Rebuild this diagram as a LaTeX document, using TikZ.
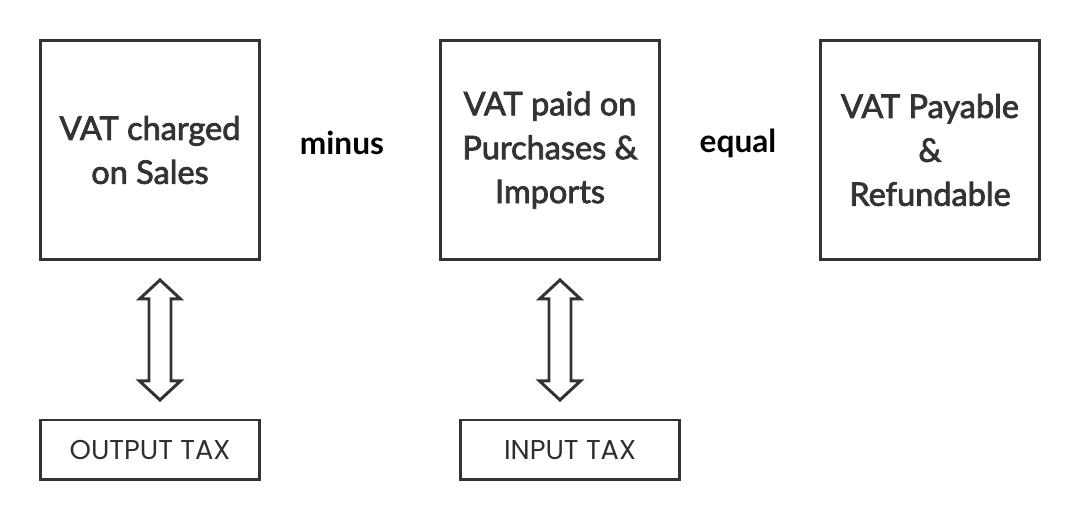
\documentclass[tikz,border=0pt]{standalone}
\usepackage{fontspec}
\setmainfont{Lato}
\newfontfamily\boxfont{Lato}[FakeBold=2.4]
\newfontfamily\labelfont{Poppins}
\usepackage{xcolor}
\usetikzlibrary{positioning,calc}

\definecolor{inkgray}{HTML}{333333}

\tikzset{
  vatbox/.style={draw=inkgray,line width=1.7pt,minimum width=4.4cm,minimum height=4.4cm,
    align=center,text=inkgray,font=\boxfont\fontsize{18.5}{25}\selectfont,inner sep=0pt},
  taxbox/.style={draw=inkgray,line width=1.7pt,minimum width=4.4cm,minimum height=1.2cm,
    text=inkgray!90!black,font=\labelfont\fontsize{15.5}{18}\selectfont,inner sep=0pt},
  opword/.style={text=black,font=\bfseries\fontsize{18}{22}\selectfont},
  dblarrow/.style={draw=inkgray,line width=1.7pt,line join=miter}
}

\begin{document}
\begin{tikzpicture}[x=0.02cm,y=-0.02cm]
\useasboundingbox (0,0) rectangle (1080,520);

% Main boxes
\node[vatbox] (sales) at (150,150) {VAT charged\\on Sales};
\node[vatbox] (purchases) at (550,150) {VAT paid on\\Purchases \&\\Imports};
\node[vatbox] (payable) at (930,150) {VAT Payable\\\&\\Refundable};

% Operators
\node[opword] (minus) at (342,143) {minus};
\node[opword] (equal) at (738,143) {equal};

% Tax boxes
\node[taxbox] (outtax) at (150,450) {OUTPUT TAX};
\node[taxbox] (intax) at (570,450) {INPUT TAX};

% Double arrows between the boxes
\coordinate (salesarrow) at ($(sales.south)!0.5!(outtax.north)+(10,0)$);
\coordinate (purcharrow) at ($(purchases.south)!0.5!(intax.north)$);
\foreach \mid in {salesarrow,purcharrow}
  \draw[dblarrow] (\mid) ++(0,-60) -- ++(20.5,19) -- ++(-9.5,0) -- ++(0,82)
    -- ++(9.5,0) -- ++(-20.5,19) -- ++(-20.5,-19) -- ++(9.5,0) -- ++(0,-82)
    -- ++(-9.5,0) -- cycle;
\end{tikzpicture}
\end{document}
